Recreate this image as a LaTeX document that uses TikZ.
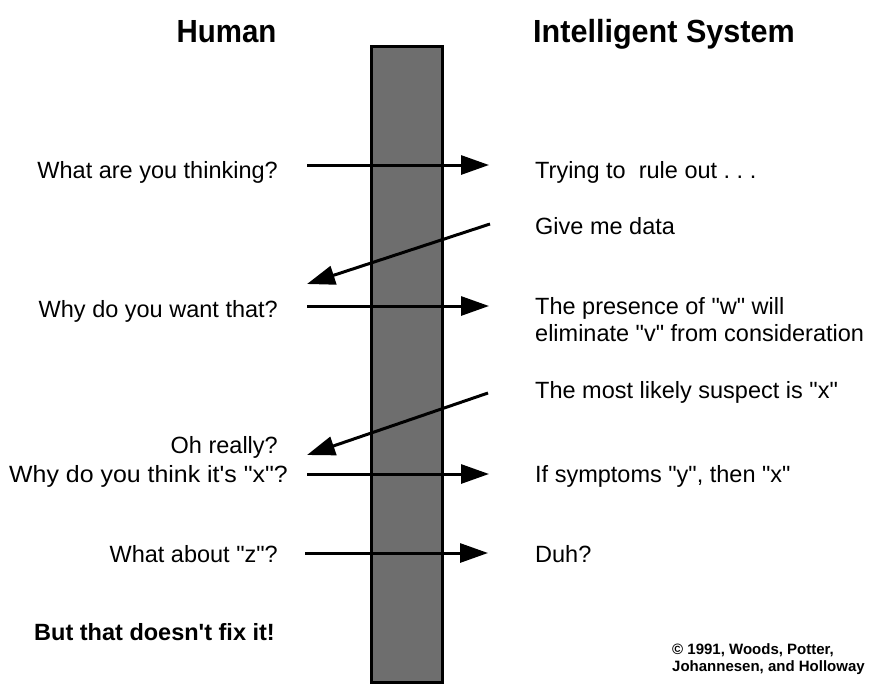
\documentclass[tikz,border=0pt]{standalone}
\usepackage{fontspec}
\usepackage{graphicx}
\setmainfont{Liberation Sans}[Ligatures=TeXOff]
\usetikzlibrary{arrows.meta}
\begin{document}
\frenchspacing
\begin{tikzpicture}[x=1pt,y=-1pt,
  body/.style={font=\fontsize{23.5}{27}\selectfont, inner sep=0pt},
  bodybold/.style={font=\bfseries\fontsize{23.5}{27}\selectfont, inner sep=0pt},
  head/.style={font=\bfseries\fontsize{32}{36}\selectfont, inner sep=0pt},
  note/.style={font=\bfseries\fontsize{15}{16}\selectfont, inner sep=0pt, align=left},
  msg/.style={line width=3pt, -{Triangle[length=28pt,width=19pt]}},
  wall/.style={fill=black!57, draw=black, line width=3pt, inner sep=0pt}]
\useasboundingbox (0,0) rectangle (873,683);
\fill[white] (0,0) rectangle (873,683);

% the barrier
\node[wall, minimum width=71pt, minimum height=636pt, anchor=north west] (bar) at (369.5,44.5) {};

% headings
\node[head, anchor=base] (human) at (226.5,42) {\scalebox{0.92}[1]{Human}};
\node[head, anchor=base west] (system) at (533,42) {\scalebox{0.955}[1]{Intelligent System}};

% human side
\node[body, anchor=base east] (h1) at (278,178) {What are you thinking?};
\node[body, anchor=base east] (h2) at (278,317) {Why do you want that?};
\node[body, anchor=base east] (h3) at (278,453) {Oh really?};
\node[body, anchor=base east] (h4) at (288,482) {\scalebox{1.06}[1]{Why do you think it's "x"?}};
\node[body, anchor=base east] (h5) at (278,562) {What about "z"?};
\node[bodybold, anchor=base east] (h6) at (275,640) {But that doesn't fix it!};

% system side
\node[body, anchor=base west] (s1) at (535,178) {Trying to~ rule out . . .};
\node[body, anchor=base west] (s2) at (535,234) {Give me data};
\node[body, anchor=north west, align=left] (s3) at (535,297.5) {The presence of "w" will\\eliminate "v" from consideration};
\node[body, anchor=base west] (s4) at (535,398) {The most likely suspect is "x"};
\node[body, anchor=base west] (s5) at (535,482) {If symptoms "y", then "x"};
\node[body, anchor=base west] (s6) at (535,562) {Duh?};
\node[note, anchor=north west] (copy) at (672,643) {© 1991, Woods, Potter,\\[1pt]Johannesen, and Holloway};

% arrow end points
\coordinate (a1s) at (307,165); \coordinate (a1e) at (489,165);
\coordinate (d1s) at (490,224); \coordinate (d1e) at (307,284);
\coordinate (a2s) at (307,306); \coordinate (a2e) at (489,306);
\coordinate (d2s) at (488,393); \coordinate (d2e) at (307,455);
\coordinate (a3s) at (307,474); \coordinate (a3e) at (489,474);
\coordinate (a4s) at (305,553); \coordinate (a4e) at (488,553);

\draw[msg] (a1s) -- (a1e);
\draw[msg] (d1s) -- (d1e);
\draw[msg] (a2s) -- (a2e);
\draw[msg] (d2s) -- (d2e);
\draw[msg] (a3s) -- (a3e);
\draw[msg] (a4s) -- (a4e);
\end{tikzpicture}
\end{document}
